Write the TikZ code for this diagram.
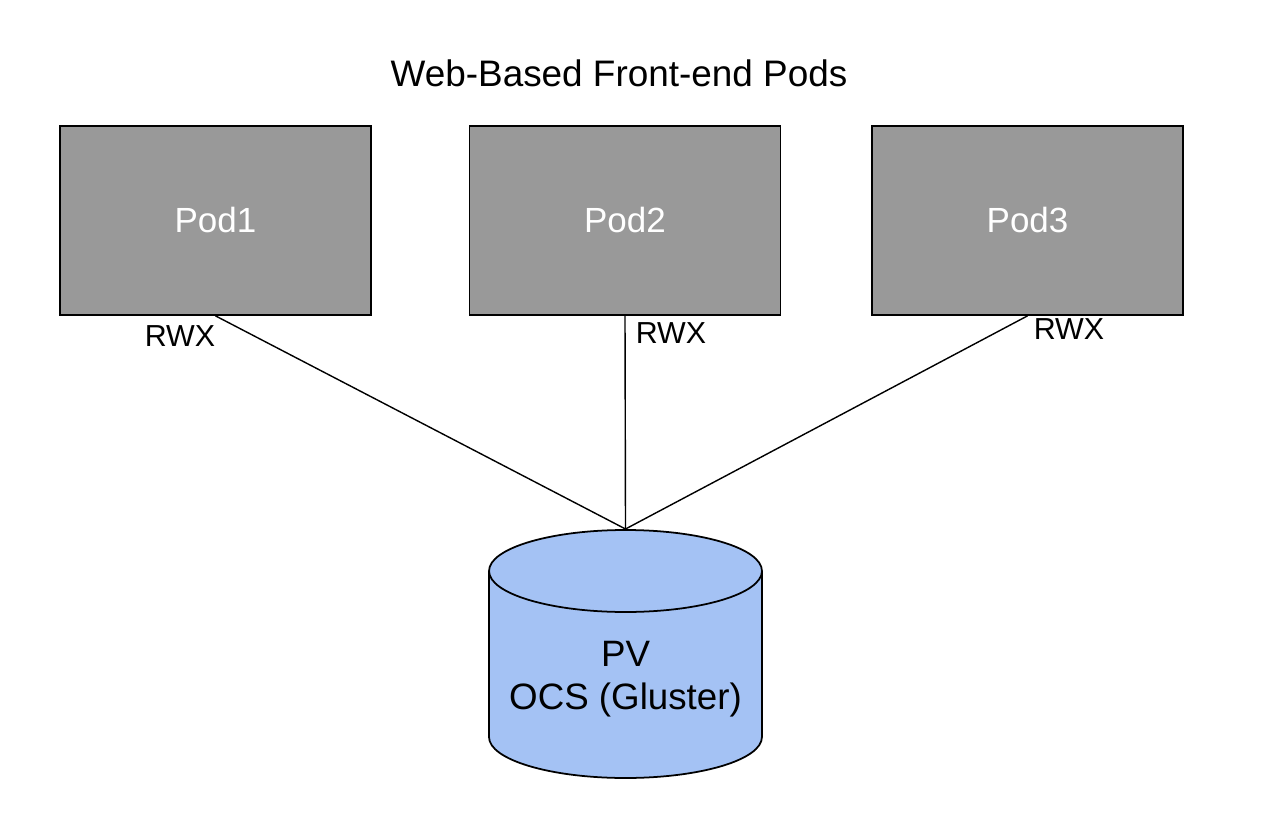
\documentclass[tikz,border=0pt]{standalone}
\usepackage{fontspec}
\setmainfont{Liberation Sans}
\definecolor{podgray}{HTML}{999999}
\definecolor{pvblue}{HTML}{A4C2F4}
\begin{document}
\begin{tikzpicture}[x = 0.02cm, y = -0.02cm,
  pod/.style={draw, line width=1pt, fill=podgray, minimum width=6.22cm, minimum height=3.78cm, inner sep=0pt, text=white, font=\fontsize{19.9}{24}\selectfont},
  rwx/.style={inner sep=0pt, font=\fontsize{17.3}{20}\selectfont}]
\useasboundingbox (0, 0) rectangle (1268, 828);

\node (title) at (619, 73.5) {\fontsize{21}{25}\selectfont Web-Based Front-end Pods};

\node[pod] (pod1) at (215.5, 220.5) {Pod1};
\node[pod] (pod2) at (625, 220.5) {Pod2};
\node[pod] (pod3) at (1027.5, 220.5) {Pod3};

\coordinate (pvtop) at (625.5, 529);
\draw[line width=0.8pt] (pod1.south) -- (pvtop);
\draw[line width=0.8pt] (pod2.south) -- (pvtop);
\draw[line width=0.8pt] (pod3.south) -- (pvtop);

\node[rwx] (rwx1) at (180, 336) {RWX};
\node[rwx] (rwx2) at (671, 333) {RWX};
\node[rwx] (rwx3) at (1069, 329.5) {RWX};

\draw[line width=1pt, fill=pvblue] (489, 571) -- (489, 737) arc[start angle=180, end angle=360, x radius=2.73cm, y radius=0.82cm] -- (762, 571);
\draw[line width=1pt, fill=pvblue] (625.5, 571) ellipse [x radius=2.73cm, y radius=0.82cm];
\node[align=center, font=\fontsize{20.9}{24.4}\selectfont] (pv) at (625.5, 679) {PV\\OCS (Gluster)};

\end{tikzpicture}
\end{document}
